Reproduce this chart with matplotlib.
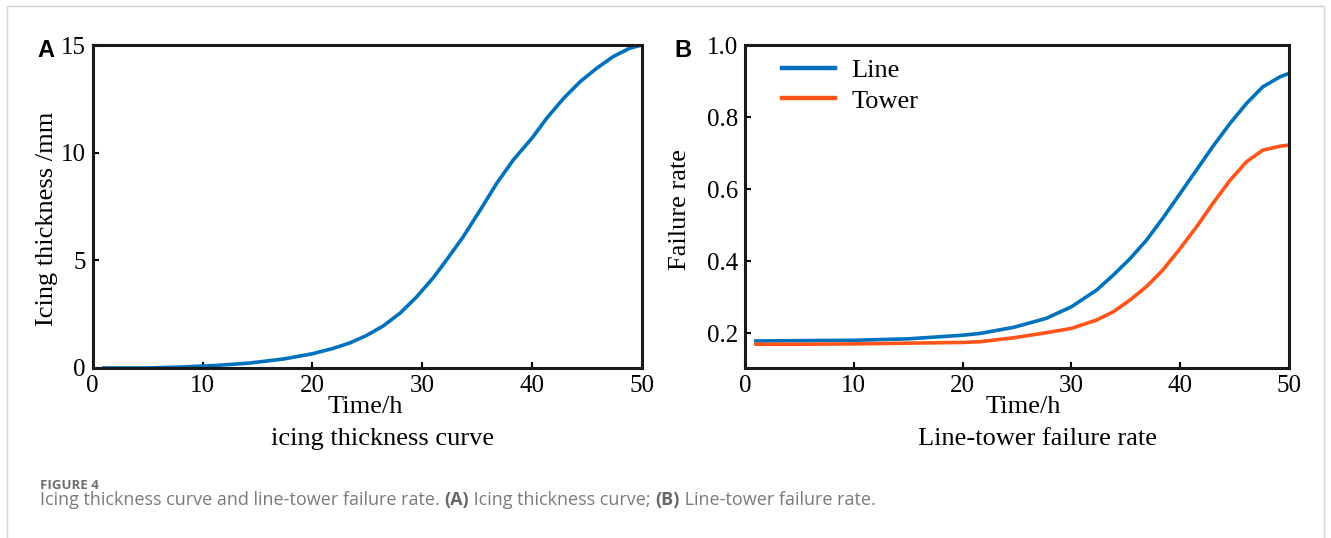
import matplotlib
matplotlib.use("Agg")
import matplotlib.pyplot as plt
from matplotlib.patches import Rectangle

# ---------------- DATA ----------------
time_ice = [1, 5, 8.3, 11.3, 14.3, 17.4, 20, 21.9, 23.4, 24.9, 26.45, 28.0, 29.5, 31.0,
            32.2, 33.75, 35.3, 36.8, 38.3, 40.0, 41.35, 42.9, 44.4, 45.9, 47.4, 48.9, 50]
ice_thickness = [0, 0, 0.05, 0.12, 0.23, 0.42, 0.66, 0.91, 1.16, 1.50, 1.95, 2.55, 3.3, 4.18,
                 5.0, 6.1, 7.34, 8.58, 9.66, 10.67, 11.6, 12.53, 13.3, 13.92, 14.46, 14.85, 15.0]

time_fail = [1, 5, 10, 15, 20, 21.6, 24.7, 27.7, 30.0, 32.3, 33.85, 35.4, 36.9,
             38.4, 40.0, 41.5, 43.0, 44.6, 46.1, 47.6, 49.2, 50]
line_rate = [0.178, 0.179, 0.180, 0.184, 0.194, 0.199, 0.216, 0.241, 0.273, 0.319, 0.361,
             0.407, 0.458, 0.519, 0.588, 0.653, 0.718, 0.783, 0.838, 0.884, 0.912, 0.921]
tower_rate = [0.169, 0.169, 0.170, 0.172, 0.174, 0.176, 0.187, 0.201, 0.213, 0.236, 0.259,
              0.292, 0.329, 0.375, 0.435, 0.495, 0.560, 0.625, 0.676, 0.708, 0.719, 0.722]

x_ticks = [0, 10, 20, 30, 40, 50]
ice_ticks = [0, 5, 10, 15]
rate_ticks = [0.2, 0.4, 0.6, 0.8, 1.0]

# ---------------- STYLE ----------------
SERIF = "Liberation Serif"
BLUE = "#0072BD"
ORANGE = "#FF5419"
W, H = 1331, 538

fig = plt.figure(figsize=(W / 100, H / 100), dpi=100)

# light frame round the figure, like the journal page
fig.patches.append(Rectangle((7 / W, -0.05), (1324 - 7) / W, 1.05 - 6 / H,
                             transform=fig.transFigure, fill=False,
                             edgecolor="#d4d4d4", linewidth=1.0))


def style_axes(ax):
    for s in ax.spines.values():
        s.set_linewidth(2.2)
        s.set_color("#1a1a1a")
    ax.tick_params(direction="in", length=4, width=1.5, pad=5,
                   labelsize=18, top=False, right=False)
    for lab in ax.get_xticklabels() + ax.get_yticklabels():
        lab.set_fontfamily(SERIF)


# ---------------- PANEL A ----------------
axA = fig.add_axes([92.7 / W, 1 - 368 / H, (641.7 - 92.7) / W, (368 - 45) / H])
axA.plot(time_ice, ice_thickness, color=BLUE, lw=2.6)
axA.set_xlim(0, 50)
axA.set_ylim(0, 15)
axA.set_xticks(x_ticks)
axA.set_yticks(ice_ticks)
style_axes(axA)
axA.set_ylabel("Icing thickness /mm", fontfamily=SERIF, fontsize=19, va="center")
axA.yaxis.set_label_coords((47 - 92.7) / 549, 0.463)
axA.text(0.497, (368 - 413) / 323, "Time/h", transform=axA.transAxes,
         ha="center", va="baseline", fontfamily=SERIF, fontsize=19)
axA.text(0.5275, (368 - 445) / 323, "icing thickness curve", transform=axA.transAxes,
         ha="center", va="baseline", fontfamily=SERIF, fontsize=19)
fig.text(37 / W, 1 - 57 / H, "A", fontfamily="Liberation Sans", fontweight="bold",
         fontsize=17, ha="left", va="baseline")

# ---------------- PANEL B ----------------
axB = fig.add_axes([745 / W, 1 - 368 / H, (1289 - 745) / W, (368 - 45) / H])
axB.plot(time_fail, line_rate, color=BLUE, lw=2.6, label="Line")
axB.plot(time_fail, tower_rate, color=ORANGE, lw=2.6, label="Tower")
axB.set_xlim(0, 50)
axB.set_ylim(0.103, 1.0)
axB.set_xticks(x_ticks)
axB.set_yticks(rate_ticks)
axB.set_yticklabels([f"{v:.1f}" for v in rate_ticks])
style_axes(axB)
axB.set_ylabel("Failure rate", fontfamily=SERIF, fontsize=19, va="center")
axB.yaxis.set_label_coords((680 - 745) / 544, 0.492)
axB.text(0.511, (368 - 413) / 323, "Time/h", transform=axB.transAxes,
         ha="center", va="baseline", fontfamily=SERIF, fontsize=19)
axB.text(0.538, (368 - 445) / 323, "Line-tower failure rate", transform=axB.transAxes,
         ha="center", va="baseline", fontfamily=SERIF, fontsize=19)
fig.text(674 / W, 1 - 57 / H, "B", fontfamily="Liberation Sans", fontweight="bold",
         fontsize=17, ha="left", va="baseline")

leg = axB.legend(loc="upper left", bbox_to_anchor=(0.068, 0.958), frameon=False,
                 borderaxespad=0, borderpad=0, handlelength=2.0, handletextpad=0.63,
                 labelspacing=0.27, prop={"family": SERIF, "size": 19})
for h in leg.get_lines():
    h.set_linewidth(3.2)

# ---------------- CAPTION ----------------
fig.text(40 / W, 1 - 489 / H, "FIGURE 4", fontfamily="Open Sans", fontweight="bold",
         fontsize=9.5, color="#6e6e6e", ha="left", va="baseline")

# caption with bold (A)/(B) pieces, laid out one after another
parts = [("Icing thickness curve and line-tower failure rate. ", "normal"),
         ("(A)", "bold"), (" Icing thickness curve; ", "normal"),
         ("(B)", "bold"), (" Line-tower failure rate.", "normal")]
fig.canvas.draw()
renderer = fig.canvas.get_renderer()
x = 40
for txt, wt in parts:
    t = fig.text(x / W, 1 - 505 / H, txt, fontfamily="Open Sans", fontweight=wt,
                 fontsize=13, color="#666666" if wt == "bold" else "#7a7a7a",
                 ha="left", va="baseline")
    x += t.get_window_extent(renderer).width

fig.savefig("out.png", dpi=100)
